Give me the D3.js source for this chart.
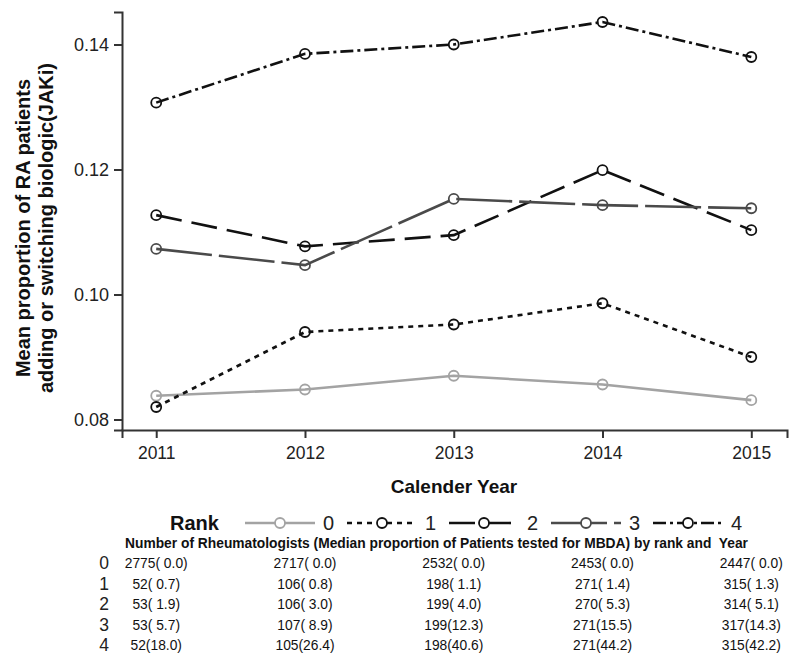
<!DOCTYPE html>
<html>
<head>
<meta charset="utf-8">
<script src="https://cdn.jsdelivr.net/npm/d3@7"></script>
<style>
  body { margin: 0; background: #fff; }
  svg { font-family: "Liberation Sans", Arial, sans-serif; }
</style>
</head>
<body>
<svg width="800" height="665"></svg>
<script>
// data
var years = [2011, 2012, 2013, 2014, 2015];
var ranks = ["0", "1", "2", "3", "4"];
var rank0 = [0.0838, 0.0848, 0.0870, 0.0856, 0.0831];
var rank1 = [0.0820, 0.0940, 0.0952, 0.0986, 0.0900];
var rank2 = [0.1127, 0.1077, 0.1095, 0.1199, 0.1103];
var rank3 = [0.1073, 0.1047, 0.1153, 0.1143, 0.1138];
var rank4 = [0.1307, 0.1385, 0.1400, 0.1436, 0.1380];
var yTicks = [0.08, 0.10, 0.12, 0.14];

// table under the chart: number of rheumatologists and median proportion
var counts = [
  [2775, 2717, 2532, 2453, 2447],
  [52, 106, 198, 271, 315],
  [53, 106, 199, 270, 314],
  [53, 107, 199, 271, 317],
  [52, 105, 198, 271, 315]
];
var medians = [
  [0.0, 0.0, 0.0, 0.0, 0.0],
  [0.7, 0.8, 1.1, 1.4, 1.3],
  [1.9, 3.0, 4.0, 5.3, 5.1],
  [5.7, 8.9, 12.3, 15.5, 14.3],
  [18.0, 26.4, 40.6, 44.2, 42.2]
];

var series = [rank0, rank1, rank2, rank3, rank4];
// line style per rank
var styles = [
  {color: "#a3a3a3", dash: null},
  {color: "#111", dash: "5,5"},
  {color: "#111", dash: "26,10"},
  {color: "#4a4a4a", dash: "56,7"},
  {color: "#111", dash: "13,4,3,4"}
];

var svg = d3.select("svg");

var x = d3.scaleLinear().domain([2010.77, 2015.24]).range([122, 787]);
var y = d3.scaleLinear().domain([0.07832, 0.1452]).range([430, 12]);

// axes
svg.append("g")
  .attr("class", "yaxis")
  .attr("transform", "translate(122,0)")
  .call(d3.axisLeft(y).tickValues(yTicks).tickFormat(d3.format(".2f")).tickSizeOuter(0).tickSize(8).tickPadding(5));
svg.append("g")
  .attr("class", "xaxis")
  .attr("transform", "translate(0,430)")
  .call(d3.axisBottom(x).tickValues(years).tickFormat(d3.format("d")).tickSizeOuter(0).tickSize(8).tickPadding(9));

svg.selectAll(".domain, .tick line").attr("stroke", "#333").attr("stroke-width", 2);
svg.selectAll(".tick text").attr("fill", "#222")
  .attr("font-family", "Liberation Sans, Arial, sans-serif");
svg.selectAll(".yaxis .tick text").attr("font-size", 18);
svg.selectAll(".xaxis .tick text").attr("font-size", 17.5);

// axis titles
svg.append("text")
  .attr("transform", "translate(30,228) rotate(-90)")
  .attr("text-anchor", "middle")
  .attr("font-size", 20).attr("font-weight", "bold").attr("fill", "#111")
  .text("Mean proportion of RA patients");
svg.append("text")
  .attr("transform", "translate(53,228) rotate(-90)")
  .attr("text-anchor", "middle")
  .attr("font-size", 20).attr("font-weight", "bold").attr("fill", "#111")
  .text("adding or switching biologic(JAKi)");
svg.append("text")
  .attr("x", 454).attr("y", 493)
  .attr("text-anchor", "middle")
  .attr("font-size", 19).attr("font-weight", "bold").attr("fill", "#111")
  .text("Calender Year");

// lines
var line = d3.line()
  .x(function(d, i) { return x(years[i]); })
  .y(function(d) { return y(d); });

var lineG = svg.append("g");
series.forEach(function(s, k) {
  var g = lineG.append("g");
  g.append("path")
    .datum(s)
    .attr("d", line)
    .attr("fill", "none")
    .attr("stroke", styles[k].color)
    .attr("stroke-width", 2.6)
    .attr("stroke-dasharray", styles[k].dash);
  g.selectAll("circle")
    .data(s)
    .enter()
    .append("circle")
    .attr("cx", function(d, i) { return x(years[i]); })
    .attr("cy", function(d) { return y(d); })
    .attr("r", 5)
    .attr("fill", "none")
    .attr("stroke", styles[k].color)
    .attr("stroke-width", 1.8);
});

// legend
svg.append("text")
  .attr("x", 170).attr("y", 530)
  .attr("font-size", 20).attr("font-weight", "bold").attr("fill", "#111")
  .text("Rank");

var legend = svg.append("g").selectAll("g")
  .data(ranks)
  .enter()
  .append("g")
  .attr("transform", function(d, i) { return "translate(" + (245 + i * 102) + ",523)"; });
legend.append("line")
  .attr("x1", 0).attr("x2", 70)
  .attr("stroke", function(d, i) { return styles[i].color; })
  .attr("stroke-width", 2.6)
  .attr("stroke-dasharray", function(d, i) { return styles[i].dash; });
legend.append("circle")
  .attr("cx", 35).attr("r", 5)
  .attr("fill", "#fff")
  .attr("stroke", function(d, i) { return styles[i].color; })
  .attr("stroke-width", 1.8);
legend.append("text")
  .attr("x", 78).attr("y", 7)
  .attr("font-size", 20).attr("fill", "#222")
  .text(function(d) { return d; });

// table
svg.append("text")
  .attr("x", 125).attr("y", 548)
  .attr("font-size", 13.8).attr("font-weight", "bold").attr("fill", "#111")
  .attr("xml:space", "preserve")
  .text("Number of Rheumatologists (Median proportion of Patients tested for MBDA) by rank and  Year");

var rowY = d3.scalePoint().domain(ranks).range([563, 645]);
function cell(n, m) {
  var s = m.toFixed(1);
  if (s.length < 4) s = " " + s;
  return n + "(" + s + ")";
}
var rows = svg.append("g").selectAll("g")
  .data(ranks)
  .enter()
  .append("g")
  .attr("transform", function(d) { return "translate(0," + rowY(d) + ")"; });
rows.append("text")
  .attr("x", 104).attr("y", 6)
  .attr("text-anchor", "middle")
  .attr("font-size", 17.5).attr("fill", "#222")
  .text(function(d) { return d; });
rows.selectAll("text.val")
  .data(function(d, r) { return years.map(function(yr, i) { return {yr: yr, t: cell(counts[r][i], medians[r][i])}; }); })
  .enter()
  .append("text")
  .attr("class", "val")
  .attr("x", function(d) { return x(d.yr); })
  .attr("y", 5)
  .attr("text-anchor", "middle")
  .attr("font-size", 13.8).attr("fill", "#111")
  .attr("xml:space", "preserve")
  .style("white-space", "pre")
  .text(function(d) { return d.t; });
</script>
</body>
</html>
